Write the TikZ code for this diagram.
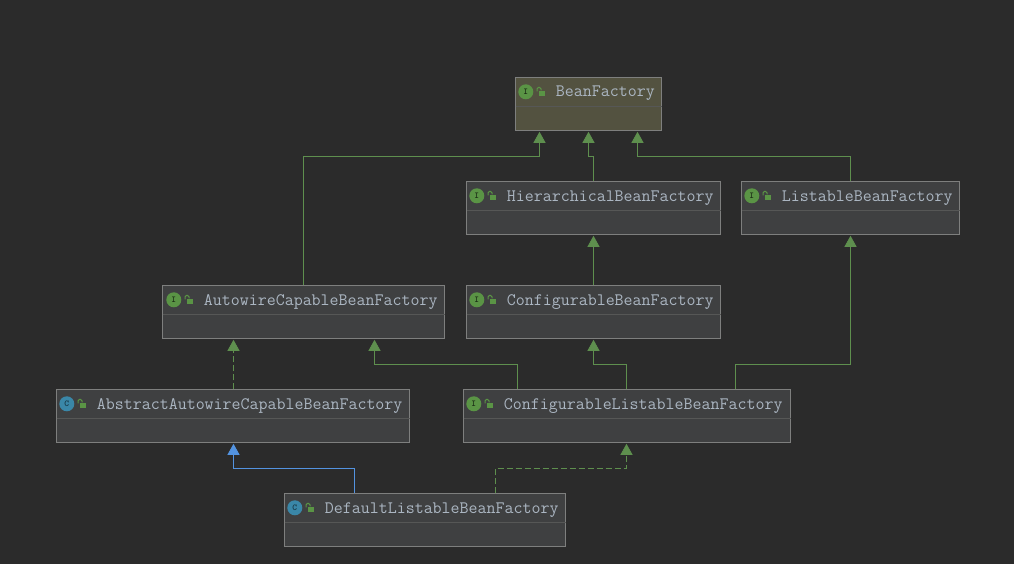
\documentclass[tikz,border=0pt]{standalone}
\usetikzlibrary{arrows.meta}
\definecolor{canvas}{HTML}{2B2B2B}
\definecolor{boxfill}{HTML}{3F4041}
\definecolor{rootfill}{HTML}{535240}
\definecolor{boxline}{HTML}{7E7F7E}
\definecolor{rowline}{HTML}{565756}
\definecolor{labelgrey}{HTML}{ABB6C2}
\definecolor{linkgreen}{HTML}{5E8F4E}
\definecolor{linkblue}{HTML}{5393E0}
\definecolor{ifacegreen}{HTML}{5A9445}
\definecolor{classblue}{HTML}{3A87A8}

\tikzset{
	classbox/.style = {draw=boxline, fill=boxfill, line width=0.9pt, minimum height=53pt, inner sep=0pt, outer sep=0pt},
	badge/.style = {circle, minimum size=15pt, inner sep=0pt, font=\fontsize{9}{9}\bfseries\ttfamily},
	ifacebadge/.style = {badge, fill=ifacegreen, text=black!70!ifacegreen},
	classbadge/.style = {badge, fill=classblue, text=black!60!classblue},
	lockbody/.style = {fill=ifacegreen, minimum width=6pt, minimum height=5.5pt, inner sep=0pt},
	lockhoop/.style = {draw=ifacegreen, line width=1pt, rounded corners=1.5pt},
	boxlabel/.style = {anchor=base west, inner sep=0pt, text=labelgrey, font=\fontsize{17.45}{20}\ttfamily},
	extends/.style = {draw=linkgreen, line width=0.8pt, shorten >=1.5pt, -{Triangle[width=12pt,length=11pt]}},
	realizes/.style = {extends, dash pattern=on 6pt off 3pt},
	subclass/.style = {draw=linkblue, line width=0.9pt, shorten >=1.5pt, -{Triangle[width=12pt,length=11pt]}}
}

% divider, badge, lock and label of one type box: [inset], name, badge style, letter, text
\newcommand{\typerow}[5][0pt]{
	\draw[rowline] ([yshift=-28.5pt]#2.north west) -- ([yshift=-28.5pt]#2.north east);
	\coordinate (#2Corner) at ([xshift=#1]#2.north west);
	\node[#3] (#2Badge) at ([xshift=10.3pt,yshift=-14.5pt]#2Corner) {#4};
	\node[lockbody] (#2Lock) at ([xshift=26pt,yshift=-16pt]#2Corner) {};
	\draw[lockhoop] ([xshift=-0.5pt]#2Lock.north) -- ++(0,-3) -- ++(-4,0) -- ++(0,4);
	\node[boxlabel] (#2Label) at ([xshift=40.2pt,yshift=-19.7pt]#2Corner) {#5};
}

\begin{document}
\begin{tikzpicture}[x=1pt,y=-1pt]
	\useasboundingbox[fill=canvas] (0,0) rectangle (1014,564);

	\begin{scope}[xshift=-0.5pt,yshift=0.5pt]
	\node[classbox, fill=rootfill, minimum width=146pt] (BeanFactory) at (589,104.3) {};
	\node[classbox, minimum width=254pt] (Hierarchical) at (594,208.3) {};
	\node[classbox, minimum width=218pt] (Listable) at (851,208.3) {};
	\node[classbox, minimum width=282pt] (Autowire) at (304,312.3) {};
	\node[classbox, minimum width=254pt] (Configurable) at (594,312.3) {};
	\node[classbox, minimum width=353pt] (AbstractAutowire) at (233.5,416.3) {};
	\node[classbox, minimum width=327pt] (ConfigListable) at (627.5,416.3) {};
	\node[classbox, minimum width=281pt] (DefaultListable) at (425.5,520.3) {};

	\typerow{BeanFactory}{ifacebadge}{I}{BeanFactory}
	\typerow{Hierarchical}{ifacebadge}{I}{HierarchicalBeanFactory}
	\typerow{Listable}{ifacebadge}{I}{ListableBeanFactory}
	\typerow[1pt]{Autowire}{ifacebadge}{I}{AutowireCapableBeanFactory}
	\typerow{Configurable}{ifacebadge}{I}{ConfigurableBeanFactory}
	\typerow{AbstractAutowire}{classbadge}{C}{AbstractAutowireCapableBeanFactory}
	\typerow{ConfigListable}{ifacebadge}{I}{ConfigurableListableBeanFactory}
	\typerow{DefaultListable}{classbadge}{C}{DefaultListableBeanFactory}

	% arrow ends on the bottom edges, arrow starts on the top edges
	\coordinate (RootLeft) at (540,130.8);
	\coordinate (RootRight) at (638,130.8);
	\coordinate (AutowireIn) at (375,338.8);
	\coordinate (AutowireInB) at (234,338.8);
	\coordinate (AbstractIn) at (234,442.8);
	\coordinate (AbstractOut) at (234,389.8);
	\coordinate (ConfigListableIn) at (627,442.8);
	\coordinate (ConfigListableOutA) at (518,389.8);
	\coordinate (ConfigListableOutB) at (736,389.8);
	\coordinate (ConfigListableOutC) at (627,389.8);
	\coordinate (DefaultOutA) at (355,493.8);
	\coordinate (DefaultOutB) at (496,493.8);

	\draw[extends] (Autowire.north) |- (540,157) -- (RootLeft);
	\draw[extends] (Hierarchical.north) |- (589,157) -- (BeanFactory.south);
	\draw[extends] (Listable.north) |- (638,157) -- (RootRight);
	\draw[extends] (Configurable.north) -- (Hierarchical.south);
	\draw[extends] (ConfigListableOutB) |- (851,365) -- (Listable.south);
	\draw[extends] (ConfigListableOutA) |- (375,365) -- (AutowireIn);
	\draw[extends] (ConfigListableOutC) |- (594,365) -- (Configurable.south);
	\draw[realizes] (AbstractOut) -- (AutowireInB);
	\draw[subclass] (DefaultOutA) |- (234,469) -- (AbstractIn);
	\draw[realizes] (DefaultOutB) |- (627,469) -- (ConfigListableIn);
	\end{scope}
\end{tikzpicture}
\end{document}
